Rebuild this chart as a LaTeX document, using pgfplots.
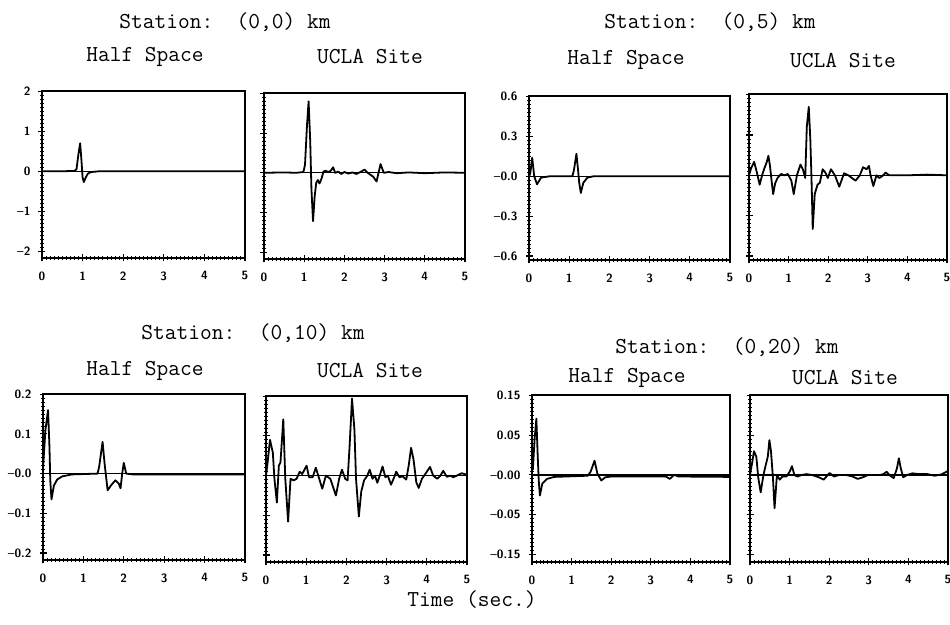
\documentclass[border=0pt]{standalone}
\usepackage{fontspec}
\usepackage{pgfplots}
\pgfplotsset{compat=1.18}

\pgfplotsset{
  panel/.style={
    scale only axis, anchor=south west,
    xmin=0, xmax=5.001,
    xtick={0,1,2,3,4,5}, xticklabels={0,1,2,3,4,5},
    minor x tick num=9, minor y tick num=9,
    xtick pos=left, ytick pos=left,
    tick align=center, major tick length=3.5pt, minor tick length=2pt,
    every tick/.style={black, line width=0.55pt},
    every minor tick/.style={black, line width=0.4pt},
    axis line style={line width=0.8pt},
    ticklabel style={font=\fontsize{6}{7}\selectfont\sffamily\bfseries},
    xticklabel style={yshift=-1.5pt},
    yticklabel style={xshift=-0.5pt},
    /pgf/number format/assume math mode=true,
  },
  wave/.style={black, line width=0.9pt, line join=round},
  zero/.style={black, line width=0.65pt},
}

\newcommand{\ttl}{\fontsize{11.4}{13}\selectfont\ttfamily}

\begin{document}
\begin{tikzpicture}
\useasboundingbox (0,0) rectangle (475pt,312.5pt);

% ---- titles
\node at (112.5pt,301.5pt) {\ttl Station:~~(0,0)~km};
\node at (355pt,301.5pt)   {\ttl Station:~~(0,5)~km};
\node at (126.5pt,146pt)   {\ttl Station:~~(0,10)~km};
\node at (363.5pt,139pt)   {\ttl Station:~~(0,20)~km};
\node at (72.5pt,284pt)    {\ttl Half~Space};
\node at (185pt,284pt)     {\ttl UCLA~Site};
\node at (313pt,282.5pt)   {\ttl Half~Space};
\node at (421.5pt,282pt)   {\ttl UCLA~Site};
\node at (72.5pt,127pt)    {\ttl Half~Space};
\node at (185pt,127pt)     {\ttl UCLA~Site};
\node at (313.5pt,123.5pt) {\ttl Half~Space};
\node at (422.5pt,123.5pt) {\ttl UCLA~Site};
\node at (236pt,12.5pt)    {\ttl Time~(sec.)};

% ---- (0,0) half space
\begin{axis}[panel, at={(21pt,183.5pt)}, width=101.5pt, height=83.5pt,
  ymin=-2.17, ymax=2.01, ytick={-2,-1,0,1,2}, yticklabels={--2,--1,0,1,2}]
\addplot[zero] coordinates {(0,0) (5,0)};
\addplot[wave] coordinates {
 (0,0) (0.5,0) (0.8,0.01) (0.85,0.05) (0.9,0.45) (0.94,0.7) (0.97,0.3)
 (1.0,-0.15) (1.03,-0.27) (1.08,-0.15) (1.13,-0.06) (1.2,-0.02) (1.4,0) (5,0)};
\end{axis}

% ---- (0,0) UCLA
\begin{axis}[panel, at={(132pt,183pt)}, width=100.5pt, height=83pt,
  ymin=-2.17, ymax=2.01, ytick={-2,-1,0,1,2}, yticklabels={}]
\addplot[zero] coordinates {(0,0) (5,0)};
\addplot[wave] coordinates {
 (0,0) (0.5,0.01) (0.8,0) (0.98,0.02) (1.02,0.2) (1.07,1.2) (1.11,1.8)
 (1.15,0.8) (1.18,-0.4) (1.22,-1.22) (1.26,-0.6) (1.3,-0.25) (1.34,-0.18)
 (1.38,-0.27) (1.43,-0.15) (1.48,0.03) (1.53,0.05) (1.6,0.02) (1.66,0.05)
 (1.72,0.14) (1.77,0.0) (1.85,0.03) (1.92,-0.03) (2.0,0.02) (2.1,-0.02)
 (2.2,0.01) (2.3,-0.03) (2.4,0.02) (2.5,0.08) (2.58,0.0) (2.65,-0.05)
 (2.72,-0.1) (2.8,-0.22) (2.9,0.22) (2.98,0.0) (3.1,0.02) (3.3,-0.01)
 (3.6,0.01) (4.0,-0.01) (4.5,0.01) (5,0)};
\end{axis}

% ---- (0,5) half space
\begin{axis}[panel, at={(264.5pt,182.5pt)}, width=100.5pt, height=82pt,
  ymin=-0.63, ymax=0.605, ytick={-0.6,-0.3,0,0.3,0.6},
  yticklabels={--0.6,--0.3,--0.0,0.3,0.6}]
\addplot[zero] coordinates {(0,0) (5,0)};
\addplot[wave] coordinates {
 (0,0) (0.03,0.02) (0.08,0.14) (0.13,0.0) (0.2,-0.06) (0.3,-0.01) (0.5,0)
 (1.08,0) (1.12,0.05) (1.18,0.17) (1.22,0.05) (1.25,-0.05) (1.29,-0.125)
 (1.35,-0.05) (1.45,-0.01) (1.6,0) (5,0)};
\end{axis}

% ---- (0,5) UCLA
\begin{axis}[panel, at={(374.5pt,182.5pt)}, width=99pt, height=83pt,
  ymin=-0.63, ymax=0.605, ytick={-0.6,-0.3,0,0.3,0.6}, yticklabels={}]
\addplot[zero] coordinates {(0,0) (5,0)};
\addplot[wave] coordinates {
 (0,0) (0.05,0.05) (0.13,0.10) (0.2,0.02) (0.27,-0.07) (0.33,0) (0.38,0.045)
 (0.45,0.1) (0.49,0.145) (0.53,0.07) (0.57,-0.04) (0.61,-0.14) (0.66,-0.06)
 (0.72,-0.02) (0.81,0.01) (0.9,0) (0.98,0.01) (1.07,-0.04) (1.13,-0.14)
 (1.21,0) (1.3,0.08) (1.36,0.045) (1.42,-0.02) (1.46,0.36) (1.51,0.51)
 (1.55,0.26) (1.58,-0.04) (1.61,-0.4) (1.66,-0.14) (1.73,-0.07) (1.79,-0.055)
 (1.86,0.045) (1.93,0.02) (1.99,-0.02) (2.07,0.045) (2.17,0) (2.28,-0.085)
 (2.4,0.015) (2.51,0) (2.69,-0.04) (2.8,0) (2.88,0.06) (2.97,0.045)
 (3.03,0.07) (3.07,0) (3.14,-0.08) (3.22,0) (3.29,-0.02) (3.37,-0.005)
 (3.45,0.02) (3.54,0) (4.0,0) (4.5,0.005) (5,0)};
\end{axis}

% ---- (0,10) half space
\begin{axis}[panel, at={(21.5pt,32.5pt)}, width=101pt, height=83pt,
  ymin=-0.2175, ymax=0.2005, ytick={-0.2,-0.1,0,0.1,0.2},
  yticklabels={--0.2,--0.1,--0.0,0.1,0.2}]
\addplot[zero] coordinates {(0,0) (5,0)};
\addplot[wave] coordinates {
 (0,0.0125) (0.06,0.11) (0.125,0.16) (0.16,0.067) (0.18,-0.017) (0.21,-0.065)
 (0.27,-0.03) (0.35,-0.015) (0.475,-0.007) (0.72,-0.002) (1.35,0) (1.39,0.017)
 (1.475,0.08) (1.525,0.025) (1.6,-0.042) (1.68,-0.03) (1.79,-0.017)
 (1.875,-0.025) (1.92,-0.037) (1.96,0) (2.0,0.027) (2.06,0) (2.22,-0.002)
 (5,-0.002)};
\end{axis}

% ---- (0,10) UCLA
\begin{axis}[panel, at={(133pt,31.5pt)}, width=100.5pt, height=83pt,
  ymin=-0.2175, ymax=0.2005, ytick={-0.2,-0.1,0,0.1,0.2}, yticklabels={}]
\addplot[zero] coordinates {(0,0) (5,0)};
\addplot[wave] coordinates {
 (0,0) (0.04,0.033) (0.1,0.09) (0.17,0.058) (0.21,-0.008) (0.27,-0.068)
 (0.32,0.025) (0.36,0.033) (0.43,0.142) (0.48,-0.008) (0.55,-0.116)
 (0.61,-0.008) (0.69,-0.012) (0.76,-0.008) (0.84,0.01) (0.9,0.004)
 (1.01,0.025) (1.07,-0.004) (1.16,-0.004) (1.24,0.02) (1.3,0) (1.4,-0.033)
 (1.49,0) (1.6,-0.008) (1.74,-0.05) (1.82,-0.008) (1.89,0.015) (1.97,-0.008)
 (2.03,-0.012) (2.08,0.074) (2.14,0.194) (2.2,0.116) (2.24,-0.008)
 (2.31,-0.103) (2.37,-0.04) (2.44,-0.012) (2.52,0) (2.58,0.015) (2.65,-0.008)
 (2.71,0) (2.77,-0.018) (2.83,0) (2.9,0.023) (2.97,-0.004) (3.03,0)
 (3.11,-0.023) (3.19,-0.004) (3.24,0.01) (3.32,-0.004) (3.4,-0.002)
 (3.49,-0.01) (3.55,0.025) (3.61,0.07) (3.67,0.041) (3.74,-0.017)
 (3.8,-0.031) (3.88,-0.008) (3.99,0.008) (4.08,0.022) (4.16,0) (4.26,-0.008)
 (4.34,0) (4.41,0.012) (4.5,-0.003) (4.58,0) (4.66,-0.004) (4.75,0)
 (4.87,0.006) (5,0.002)};
\end{axis}

% ---- (0,20) half space
\begin{axis}[panel, at={(266pt,31.5pt)}, width=99pt, height=83.5pt,
  ymin=-0.11, ymax=0.101, ytick={-0.1,-0.05,0,0.05,0.1},
  yticklabels={--0.15,--0.05,--0.00,0.05,0.15}]
\addplot[zero] coordinates {(0,0) (5,0)};
\addplot[wave] coordinates {
 (0.02,0.006) (0.07,0.048) (0.11,0.071) (0.145,0.023) (0.17,-0.007)
 (0.2,-0.026) (0.26,-0.011) (0.38,-0.005) (0.56,-0.0025) (1.41,-0.001)
 (1.48,0.004) (1.58,0.018) (1.65,0.002) (1.75,-0.007) (1.85,-0.003)
 (2.0,-0.002) (3.38,-0.002) (3.48,-0.005) (3.59,0.0) (3.7,-0.002)
 (5,-0.0025)};
\end{axis}

% ---- (0,20) UCLA
\begin{axis}[panel, at={(375pt,31.5pt)}, width=99pt, height=83.5pt,
  ymin=-0.11, ymax=0.101, ytick={-0.1,-0.05,0,0.05,0.1}, yticklabels={}]
\addplot[zero] coordinates {(0,0) (5,0)};
\addplot[wave] coordinates {
 (0,0) (0.06,0.017) (0.1,0.03) (0.16,0.023) (0.21,-0.004) (0.27,-0.022)
 (0.34,0) (0.39,0.011) (0.45,0.023) (0.49,0.044) (0.53,0.03) (0.58,-0.004)
 (0.62,-0.042) (0.68,0) (0.75,-0.006) (0.82,-0.002) (0.92,-0.002)
 (1.0,0.004) (1.06,0.011) (1.12,0) (1.2,-0.002) (1.31,0) (1.43,0.001)
 (1.56,0) (1.74,-0.003) (1.86,-0.006) (2.01,0.0025) (2.12,-0.002)
 (2.25,0) (2.42,0) (2.59,-0.002) (2.72,-0.005) (2.85,-0.003) (2.98,0)
 (3.11,0) (3.28,0) (3.37,0.001) (3.45,0.004) (3.54,-0.001) (3.63,-0.004)
 (3.71,0.008) (3.76,0.021) (3.81,0.008) (3.87,-0.003) (3.97,0) (4.1,0.002)
 (4.27,0.001) (4.48,0.001) (4.66,-0.001) (4.83,0.0005) (5,0.005)};
\end{axis}
\end{tikzpicture}
\end{document}
